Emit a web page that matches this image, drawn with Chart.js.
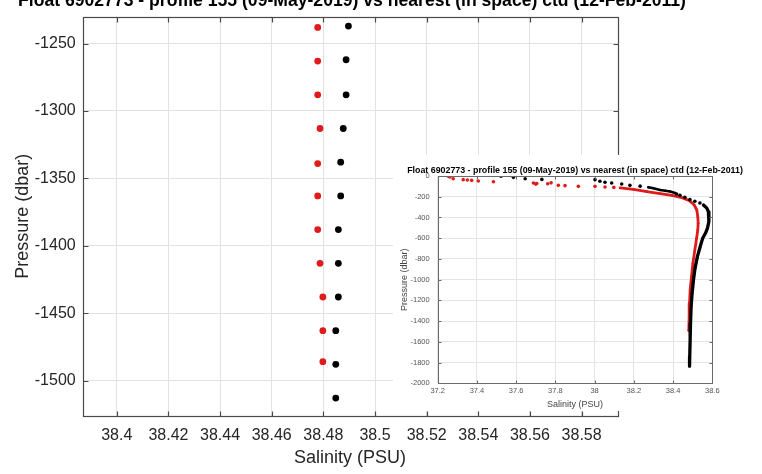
<!DOCTYPE html>
<html>
<head>
<meta charset="utf-8">
<script src="https://cdn.jsdelivr.net/npm/chart.js@4.4.1/dist/chart.umd.min.js"></script>
<style>
  html, body { margin: 0; padding: 0; background: #fff; }
  #wrap { position: relative; width: 762px; height: 474px; overflow: hidden; }
  #mainBox { position: absolute; left: 0; top: 0; width: 762px; height: 474px; }
  #insetBox { position: absolute; left: 393px; top: 155px; width: 355px; height: 256px; background: #fff; }
</style>
</head>
<body>
<div id="wrap">
  <div id="mainBox"><canvas id="mainChart" width="762" height="474"></canvas></div>
  <div id="insetBox"><canvas id="insetChart" width="355" height="256"></canvas></div>
</div>
<script>
// --- main plot (zoomed) ---
const titleText = "Float 6902773 - profile 155 (09-May-2019) vs nearest (in space) ctd (12-Feb-2011)";

const mainSalinityFloat = [38.4778, 38.4778, 38.4778, 38.4787, 38.4778, 38.4778, 38.4778, 38.4787, 38.4798, 38.4798, 38.4798];
const mainPressureFloat = [-1238, -1263, -1288, -1313, -1339, -1363, -1388, -1413, -1438, -1463, -1486];
const mainSalinityCtd = [38.4897, 38.4888, 38.4888, 38.4877, 38.4867, 38.4867, 38.4858, 38.4858, 38.4858, 38.4848, 38.4848, 38.4848];
const mainPressureCtd = [-1237, -1262, -1288, -1313, -1338, -1363, -1388, -1413, -1438, -1463, -1488, -1513];

const mainSalinityTicks = [38.4, 38.42, 38.44, 38.46, 38.48, 38.5, 38.52, 38.54, 38.56, 38.58];
const mainPressureTicks = [-1500, -1450, -1400, -1350, -1300, -1250];

// --- inset (whole profile) ---
// float, sparse surface points
const insetSalFloatTop = [37.254, 37.262, 37.279, 37.330, 37.351, 37.373, 37.407, 37.484, 37.688, 37.700, 37.705, 37.761, 37.778, 37.815, 37.849, 37.917, 38.002, 38.053, 38.098];
const insetPresFloatTop = [-3, -10, -26, -35, -38, -42, -48, -55, -67, -78, -72, -75, -66, -90, -93, -100, -100, -106, -110];
// float, dense part
const insetSalFloat = [38.130, 38.198, 38.266, 38.334, 38.394, 38.445, 38.484, 38.508, 38.521, 38.526, 38.528, 38.526, 38.520, 38.511, 38.501, 38.494, 38.487, 38.484, 38.482, 38.480];
const insetPresFloat = [-115, -130, -150, -170, -187, -209, -238, -280, -328, -392, -457, -521, -601, -714, -843, -972, -1100, -1229, -1357, -1490];
// ctd, sparse points
const insetSalCtdTop = [37.523, 37.586, 37.646, 37.731, 38.002, 38.027, 38.053, 38.087, 38.138, 38.180, 38.232, 38.418, 38.435, 38.460, 38.486, 38.511, 38.537];
const insetPresCtdTop = [-3, -13, -26, -33, -35, -51, -61, -68, -77, -90, -98, -174, -186, -206, -228, -244, -260];
// ctd, dense parts
const insetSalCtdA = [38.274, 38.300, 38.334, 38.360, 38.385, 38.410];
const insetPresCtdA = [-109, -118, -135, -142, -150, -164];
const insetSalCtdB = [38.555, 38.572, 38.580, 38.583, 38.582, 38.575, 38.565, 38.551, 38.538, 38.524, 38.512, 38.504, 38.497, 38.492, 38.489, 38.487, 38.485, 38.484];
const insetPresCtdB = [-280, -310, -344, -392, -441, -505, -553, -601, -682, -778, -891, -1003, -1132, -1261, -1421, -1582, -1743, -1835];

const insetSalinityTicks = [37.2, 37.4, 37.6, 37.8, 38, 38.2, 38.4, 38.6];
const insetPressureTicks = [-2000, -1800, -1600, -1400, -1200, -1000, -800, -600, -400, -200, 0];

const FONT = "'Liberation Sans', Arial, Helvetica, sans-serif";
const RED = "#e01b1b";

function toPoints(xs, ys) {
  return xs.map((x, i) => ({ x: x, y: ys[i] }));
}
function fmt(v) {
  return String(Number(Number(v).toFixed(3)));
}

// matlab-like box: frame, inward ticks on all sides, clipped title
const matlabFrame = {
  id: "matlabFrame",
  afterDraw(chart, args, opts) {
    const { ctx, chartArea: a, scales } = chart;
    const L = Math.round(a.left) + 0.5, R = Math.round(a.right) + 0.5;
    const T = Math.round(a.top) + 0.5, B = Math.round(a.bottom) + 0.5;
    ctx.save();
    ctx.strokeStyle = opts.color;
    ctx.lineWidth = opts.lineWidth;
    ctx.strokeRect(L, T, R - L, B - T);
    const len = opts.tickLength;
    ctx.beginPath();
    scales.x.ticks.forEach(t => {
      const px = Math.round(scales.x.getPixelForValue(t.value)) + 0.5;
      ctx.moveTo(px, B); ctx.lineTo(px, B - len);
      ctx.moveTo(px, T); ctx.lineTo(px, T + len);
    });
    scales.y.ticks.forEach(t => {
      const py = Math.round(scales.y.getPixelForValue(t.value)) + 0.5;
      ctx.moveTo(L, py); ctx.lineTo(L + len, py);
      ctx.moveTo(R, py); ctx.lineTo(R - len, py);
    });
    ctx.stroke();

    // title, sized to its measured width in the picture
    ctx.font = "bold 10px " + FONT;
    const w = ctx.measureText(opts.title).width;
    const size = 10 * opts.titleWidth / w;
    ctx.font = "bold " + size.toFixed(2) + "px " + FONT;
    ctx.fillStyle = "#000";
    ctx.textAlign = "center";
    ctx.textBaseline = "alphabetic";
    ctx.fillText(opts.title, opts.titleX, opts.titleY);
    ctx.restore();
  }
};

// main chart
new Chart(document.getElementById("mainChart"), {
  type: "scatter",
  data: {
    datasets: [
      {
        label: "ctd",
        data: toPoints(mainSalinityCtd, mainPressureCtd),
        backgroundColor: "#000",
        borderWidth: 0,
        pointRadius: 3.4
      },
      {
        label: "float",
        data: toPoints(mainSalinityFloat, mainPressureFloat),
        backgroundColor: RED,
        borderWidth: 0,
        pointRadius: 3.4
      }
    ]
  },
  options: {
    responsive: false,
    animation: false,
    devicePixelRatio: 1,
    layout: { padding: { top: 11, right: 144.5, left: 0, bottom: 0 } },
    plugins: {
      legend: { display: false },
      tooltip: { enabled: false },
      matlabFrame: {
        color: "#4a4a4a", lineWidth: 1.2, tickLength: 5,
        title: titleText, titleX: 352, titleY: 6, titleWidth: 668
      }
    },
    scales: {
      x: {
        type: "linear",
        min: 38.3868,
        max: 38.5939,
        afterBuildTicks: s => { s.ticks = mainSalinityTicks.map(v => ({ value: v })); },
        afterFit: s => { s.height = 58; },
        grid: { color: "#e2e2e2", drawTicks: false },
        border: { display: false },
        ticks: { padding: 10, color: "#262626", font: { family: FONT, size: 16 }, callback: fmt, maxRotation: 0 },
        title: { display: true, text: "Salinity (PSU)", color: "#262626", font: { family: FONT, size: 18 }, padding: { top: 0, bottom: 5 } }
      },
      y: {
        type: "linear",
        min: -1526.3,
        max: -1230,
        afterBuildTicks: s => { s.ticks = mainPressureTicks.map(v => ({ value: v })); },
        afterFit: s => { s.width = 82.7; },
        grid: { color: "#e2e2e2", drawTicks: false },
        border: { display: false },
        ticks: { padding: 7, color: "#262626", font: { family: FONT, size: 16 }, callback: fmt },
        title: { display: true, text: "Pressure (dbar)", color: "#262626", font: { family: FONT, size: 18 }, padding: { top: 12, bottom: 0 } }
      }
    }
  },
  plugins: [matlabFrame]
});

// inset chart
new Chart(document.getElementById("insetChart"), {
  type: "scatter",
  data: {
    datasets: [
      {
        label: "ctd top",
        data: toPoints(insetSalCtdTop, insetPresCtdTop),
        backgroundColor: "#000",
        borderWidth: 0,
        pointRadius: 1.8
      },
      {
        label: "ctd a",
        data: toPoints(insetSalCtdA, insetPresCtdA),
        showLine: true,
        borderColor: "#000",
        backgroundColor: "#000",
        borderWidth: 2.5,
        borderJoinStyle: "round",
        borderCapStyle: "round",
        pointBorderWidth: 0,
        pointRadius: 1.2
      },
      {
        label: "ctd b",
        data: toPoints(insetSalCtdB, insetPresCtdB),
        showLine: true,
        borderColor: "#000",
        backgroundColor: "#000",
        borderWidth: 3.3,
        borderJoinStyle: "round",
        borderCapStyle: "round",
        pointBorderWidth: 0,
        pointRadius: 1.2
      },
      {
        label: "float top",
        data: toPoints(insetSalFloatTop, insetPresFloatTop),
        backgroundColor: RED,
        borderWidth: 0,
        pointRadius: 1.8
      },
      {
        label: "float",
        data: toPoints(insetSalFloat, insetPresFloat),
        showLine: true,
        borderColor: RED,
        backgroundColor: RED,
        borderWidth: 2.8,
        borderJoinStyle: "round",
        borderCapStyle: "round",
        pointBorderWidth: 0,
        pointRadius: 1.2
      }
    ]
  },
  options: {
    responsive: false,
    animation: false,
    devicePixelRatio: 1,
    layout: { padding: { top: 21, right: 35.7, left: 0, bottom: 0 } },
    plugins: {
      legend: { display: false },
      tooltip: { enabled: false },
      matlabFrame: {
        color: "#6a6a6a", lineWidth: 1, tickLength: 3,
        title: titleText, titleX: 182, titleY: 17.5, titleWidth: 336
      }
    },
    scales: {
      x: {
        type: "linear",
        min: 37.2,
        max: 38.6,
        afterBuildTicks: s => { s.ticks = insetSalinityTicks.map(v => ({ value: v })); },
        afterFit: s => { s.height = 27.7; },
        grid: { color: "#e4e4e4", drawTicks: false },
        border: { display: false },
        ticks: { padding: 3, color: "#555", font: { family: FONT, size: 7.5 }, callback: fmt, maxRotation: 0, autoSkip: false },
        title: { display: true, text: "Salinity (PSU)", color: "#444", font: { family: FONT, size: 9 }, padding: { top: 0, bottom: 0.6 } }
      },
      y: {
        type: "linear",
        min: -2000,
        max: 0,
        afterBuildTicks: s => { s.ticks = insetPressureTicks.map(v => ({ value: v })); },
        afterFit: s => { s.width = 44.7; },
        grid: { color: "#e4e4e4", drawTicks: false },
        border: { display: false },
        ticks: { padding: 8, color: "#555", font: { family: FONT, size: 7.5 }, callback: fmt, autoSkip: false },
        title: { display: true, text: "Pressure (dbar)", color: "#444", font: { family: FONT, size: 9 }, padding: { top: 6.6, bottom: 0 } }
      }
    }
  },
  plugins: [matlabFrame]
});
</script>
</body>
</html>
